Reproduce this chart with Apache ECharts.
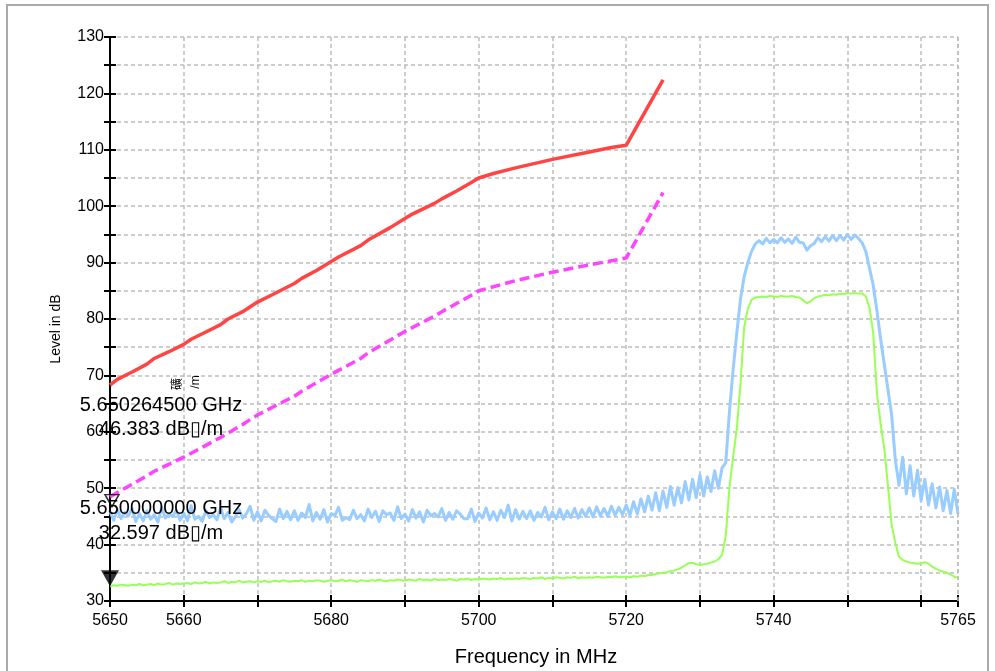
<!DOCTYPE html>
<html>
<head>
<meta charset="utf-8">
<script src="https://cdn.jsdelivr.net/npm/echarts@6/dist/echarts.min.js"></script>
<style>html,body{margin:0;padding:0;background:#fff;}#c{width:995px;height:671px;}</style>
</head>
<body>
<div id="c"></div>
<script>
// ---- data ----
const xTickVals = [5650,5660,5670,5680,5690,5700,5710,5720,5730,5740,5750,5760,5765];
const xLabelVals = [5650,5660,5680,5700,5720,5740,5765];
const yLabelVals = [30,40,50,60,70,80,90,100,110,120,130];

// limit line (red)
const limitFreq = [5650,5651,5653,5655,5656,5658,5660,5661,5663,5665,5666,5668,5670,5672,5675,5676,5678,5680,5681,5684,5685,5688,5690,5691,5694,5695,5697,5699,5700,5702,5705,5710,5715,5718,5720,5722.5,5725];
const limitLevel = [68.3,69.3,70.6,72.0,73.0,74.2,75.5,76.4,77.7,79.0,80.0,81.3,83.0,84.3,86.3,87.2,88.6,90.2,91.0,93.0,94.0,96.2,97.8,98.6,100.5,101.3,102.7,104.2,105.0,105.8,106.8,108.3,109.6,110.4,110.8,116.6,122.4];

// margin line (magenta dashed)
const marginFreq = [5650,5653,5655,5656,5660,5663,5665,5668,5670,5675,5676,5680,5684,5685,5690,5694,5695,5699,5700,5705,5710,5715,5720,5722.5,5725];
const marginLevel = [48.5,50.7,52.2,53.0,55.5,57.6,59.0,61.3,63.0,66.3,67.2,70.2,73.0,74.0,77.8,80.5,81.3,84.2,85.0,86.8,88.3,89.6,90.8,96.6,102.4];

// sweep grid of the measured traces
const sweepStart = 5650, sweepStep = 0.5;

// peak trace (light blue)
const peakLevel = [
45.9,44.3,46.2,44.6,45.7,45.1,46.4,44.1,45.5,44.2,
46.0,44.5,45.3,44.0,46.6,44.7,45.4,45.0,46.1,44.3,
45.6,44.2,46.9,44.5,45.0,44.1,46.0,44.8,45.3,44.4,
46.5,44.6,45.7,44.0,44.9,46.2,44.7,45.5,46.8,44.3,
45.8,44.2,46.1,45.2,44.6,44.1,46.3,44.6,45.9,44.4,
46.0,44.3,45.6,44.8,47.1,44.2,45.7,44.5,46.2,44.0,
45.5,45.2,46.6,44.3,44.8,44.4,46.1,44.6,45.3,44.2,
46.3,44.8,45.9,44.1,46.0,45.3,45.6,44.3,46.7,44.6,
45.4,44.2,46.2,44.7,45.8,44.0,46.1,45.1,45.5,44.9,
46.4,44.3,45.7,44.5,46.0,45.4,44.6,44.6,46.3,44.1,
45.6,44.7,46.5,44.4,45.8,44.3,46.1,44.8,47.0,44.2,
46.2,44.5,45.9,44.6,46.0,44.3,45.7,44.9,46.6,44.4,
45.8,44.6,46.3,44.5,46.0,44.8,46.4,44.7,46.2,45.0,
46.5,44.9,46.7,45.1,46.4,45.0,46.8,45.2,46.6,45.3,
47.0,45.2,47.6,45.4,48.1,45.8,48.6,46.1,49.2,46.0,
49.5,46.6,50.3,47.0,50.1,47.4,51.2,47.9,51.6,48.3,
52.4,48.6,52.0,49.4,53.1,50.0,53.6,
54.5,63.5,71.0,77.5,83.5,87.5,90.0,92.0,93.3,
93.9,93.3,94.3,93.5,94.1,93.5,94.4,93.6,94.2,93.4,
94.5,93.6,93.5,92.2,93.0,93.4,94.4,93.7,94.6,93.8,
94.8,93.9,94.8,94.0,95.0,94.1,94.9,94.3,
93.5,92.0,89.0,86.0,81.5,76.5,72.0,67.5,63.0,55.0,
50.5,55.5,49.0,54.0,48.6,53.2,47.8,51.6,47.0,50.8,
46.5,50.2,46.0,49.6,45.5,49.8,45.4
];

// average trace (light green)
const avgLevel = [
32.6,32.8,32.7,32.9,32.8,32.7,32.9,32.8,33.0,32.8,
32.9,33.0,32.8,33.1,32.9,33.0,33.2,32.9,33.1,33.0,
33.1,33.2,33.0,33.3,33.1,33.2,33.4,33.1,33.3,33.2,
33.3,33.5,33.2,33.4,33.3,33.6,33.3,33.4,33.5,33.3,
33.5,33.4,33.6,33.3,33.5,33.6,33.4,33.7,33.5,33.4,
33.6,33.5,33.7,33.4,33.6,33.5,33.7,33.6,33.4,33.6,
33.7,33.5,33.6,33.8,33.5,33.7,33.6,33.4,33.7,33.6,
33.5,33.7,33.6,33.8,33.6,33.5,33.7,33.6,33.8,33.7,
33.6,33.8,33.7,33.6,33.9,33.7,33.8,33.6,33.9,33.7,
33.8,33.7,33.9,33.8,33.6,33.9,33.8,34.0,33.7,33.9,
33.8,34.0,33.9,33.8,34.0,33.9,34.1,33.8,34.0,33.9,
34.0,33.9,34.1,34.0,33.9,34.1,34.0,34.2,33.9,34.1,
34.0,34.2,34.1,34.0,34.2,34.1,34.3,34.0,34.2,34.1,
34.2,34.1,34.3,34.2,34.1,34.3,34.2,34.4,34.2,34.3,
34.3,34.2,34.4,34.3,34.5,34.4,34.6,34.6,34.8,34.9,
35.0,35.1,35.3,35.4,35.6,35.9,36.3,36.7,36.8,36.5,
36.4,36.5,36.6,36.8,37.0,37.4,38.2,
41.5,50.0,55.5,60.5,68.5,78.5,81.8,83.4,83.8,
83.9,84.0,83.9,84.1,84.0,83.9,84.1,84.0,84.0,84.1,
83.9,83.8,83.3,82.8,83.1,83.7,84.0,84.1,84.3,84.2,
84.4,84.3,84.5,84.4,84.6,84.5,84.6,84.5,
84.5,84.0,82.0,77.5,67.0,61.5,57.0,50.5,43.5,40.3,
37.8,37.3,37.0,36.8,36.7,36.6,36.7,36.9,36.6,36.1,
35.7,35.4,35.2,35.0,34.7,34.3,34.1
];

// markers
const markerFreqMHz = [5650.2645, 5650.0];
const markerLevel = [46.383, 32.597];
const markerFreqText = ['5.650264500 GHz', '5.650000000 GHz'];
const markerLevelText = ['46.383 dB\u25AF/m', '32.597 dB\u25AF/m'];

// ---- build ----
const pairs = (xs, ys) => xs.map((x, i) => [x, ys[i]]);
const sweep = ys => ys.map((y, i) => [sweepStart + i * sweepStep, y]);
const FONT = 'Liberation Sans, Arial, sans-serif';

const chart = echarts.init(document.getElementById('c'), null, {renderer: 'canvas'});
const gridLine = {show: true, lineStyle: {color: '#bdbdbd', type: [4, 3], width: 1.5}};

const option = {
  animation: false,
  backgroundColor: '#fff',
  grid: {left: 110, right: 37, top: 37, bottom: 70, containLabel: false},
  xAxis: [{
    type: 'value', min: 5650, max: 5765,
    axisLine: {lineStyle: {color: '#000', width: 2}},
    axisTick: {customValues: xTickVals, length: 6, lineStyle: {color: '#000', width: 2}},
    axisLabel: {customValues: xLabelVals, color: '#000', fontSize: 16, fontFamily: FONT, margin: 12,
      formatter: v => String(v)},
    splitLine: gridLine
  }, {
    type: 'value', min: 5650, max: 5765, position: 'bottom',
    axisLine: {show: false},
    axisTick: {customValues: xTickVals, inside: true, length: 6, lineStyle: {color: '#000', width: 2}},
    axisLabel: {show: false}, splitLine: {show: false}
  }],
  yAxis: [{
    type: 'value', min: 30, max: 130, interval: 5,
    axisLine: {show: true, lineStyle: {color: '#000', width: 2}},
    axisTick: {show: true, length: 6, lineStyle: {color: '#000', width: 2}},
    axisLabel: {color: '#000', fontSize: 16, fontFamily: FONT, margin: 6,
      formatter: v => yLabelVals.indexOf(v) >= 0 ? String(v) : ''},
    splitLine: gridLine
  }, {
    type: 'value', min: 30, max: 130, interval: 5, position: 'left',
    axisLine: {show: false},
    axisTick: {show: true, inside: true, length: 6, lineStyle: {color: '#000', width: 2}},
    axisLabel: {show: false}, splitLine: {show: false}
  }],
  series: [
    {type: 'line', name: 'peak', data: sweep(peakLevel), showSymbol: false, z: 2,
     lineStyle: {color: '#99ccff', width: 3, join: 'round'}, itemStyle: {color: '#99ccff'},
     markLine: {silent: true, symbol: 'none', label: {show: false},
       lineStyle: {color: '#bdbdbd', type: [4, 3], width: 1.5}, data: [{xAxis: 5765}]}},
    {type: 'line', name: 'avg', data: sweep(avgLevel), showSymbol: false, z: 3,
     lineStyle: {color: '#99ff55', width: 2}, itemStyle: {color: '#99ff55'}},
    {type: 'line', name: 'margin', data: pairs(marginFreq, marginLevel), showSymbol: false, z: 4,
     lineStyle: {color: '#ff44ff', width: 3.5, type: [10, 5]}, itemStyle: {color: '#ff44ff'}},
    {type: 'line', name: 'limit', data: pairs(limitFreq, limitLevel), showSymbol: false, z: 5,
     lineStyle: {color: '#ff4444', width: 3.5}, itemStyle: {color: '#ff4444'}},
    {type: 'scatter', clip: false, z: 6, data: [[markerFreqMHz[0], markerLevel[0]]],
     symbol: 'triangle', symbolRotate: 180, symbolSize: [14, 12], symbolOffset: [0, -8],
     itemStyle: {color: 'rgba(0,0,0,0)', borderColor: '#000', borderWidth: 1.5}},
    {type: 'scatter', clip: false, z: 6, data: [[markerFreqMHz[1], markerLevel[1]]],
     symbol: 'triangle', symbolRotate: 180, symbolSize: [18, 16], symbolOffset: [0, -8],
     itemStyle: {color: '#000'}}
  ],
  graphic: [
    {type: 'rect', silent: true, z: 0, shape: {x: 7, y: 5, width: 981, height: 700},
     style: {fill: 'none', stroke: '#aaaaaa', lineWidth: 2}},
    {type: 'text', x: 56, y: 329, rotation: Math.PI / 2, z: 10,
     style: {text: 'Level in dB', font: '14px ' + FONT, fill: '#000', align: 'center', verticalAlign: 'middle'}},
    {type: 'text', x: 536, y: 657, z: 10,
     style: {text: 'Frequency in MHz', font: '20px ' + FONT, fill: '#000', align: 'center', verticalAlign: 'middle'}},
    {type: 'text', x: 176, y: 384, rotation: Math.PI / 2, z: 10,
     style: {text: '礦', font: '12px Noto Sans CJK SC', fill: '#000', align: 'center', verticalAlign: 'middle'}},
    {type: 'text', x: 196, y: 382, rotation: Math.PI / 2, z: 10,
     style: {text: '/m', font: '12px ' + FONT, fill: '#000', align: 'center', verticalAlign: 'middle'}},
    {type: 'text', x: 161, y: 405, z: 10,
     style: {text: markerFreqText[0], font: '20px ' + FONT, fill: '#000', align: 'center', verticalAlign: 'middle'}},
    {type: 'text', x: 161, y: 429, z: 10,
     style: {text: markerLevelText[0], font: '20px ' + FONT, fill: '#000', align: 'center', verticalAlign: 'middle'}},
    {type: 'text', x: 161, y: 508, z: 10,
     style: {text: markerFreqText[1], font: '20px ' + FONT, fill: '#000', align: 'center', verticalAlign: 'middle'}},
    {type: 'text', x: 161, y: 533, z: 10,
     style: {text: markerLevelText[1], font: '20px ' + FONT, fill: '#000', align: 'center', verticalAlign: 'middle'}}
  ]
};
chart.setOption(option);
</script>
</body>
</html>
